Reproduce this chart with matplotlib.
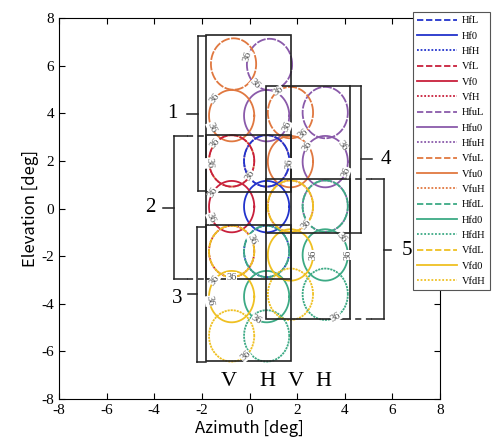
import numpy as np
import matplotlib.pyplot as plt
from matplotlib.patches import Rectangle

plt.rcParams['font.family'] = ['Liberation Serif', 'DejaVu Serif']
plt.rcParams['axes.unicode_minus'] = False

# beam contour centres (deg) for each feed group, level L / 0 / H
hf_x = [0.72, 0.72, 0.72]
hf_y = [2.0, 0.08, -1.8]
hf_lv = ['L', '0', 'H']
hf_lab = [[-5], [], []]

vf_x = [-0.75, -0.75, -0.75]
vf_y = [2.0, 0.08, -1.8]
vf_lv = ['L', '0', 'H']
vf_lab = [[136, 185, -34], [146, 206], []]

hfu_x = [0.84, 0.72, 0.72, 3.18, 3.18, 3.18]
hfu_y = [6.05, 3.9, 2.0, 4.03, 1.97, 0.1]
hfu_lv = ['L', '0', 'H', 'L', '0', 'H']
hfu_lab = [[162, 230], [-25], [], [], [143, 39, -24], []]

vfu_x = [-0.67, -0.75, -0.75, 1.72, 1.72, 1.72]
vfu_y = [6.07, 3.9, 2.0, 4.03, 1.97, 0.1]
vfu_lv = ['L', '0', 'H', 'L', '0', 'H']
vfu_lab = [[], [139, 207], [], [122, -55], [], []]

hfd_x = [0.72, 0.72, 0.72, 3.18, 3.18, 3.18]
hfd_y = [-1.8, -3.7, -5.35, 0.1, -1.95, -3.6]
hfd_lv = ['L', '0', 'H', 'L', '0', 'H']
hfd_lab = [[], [243], [], [], [42, 0], [-62]]

vfd_x = [-0.75, -0.75, -0.75, 1.72, 1.72, 1.72]
vfd_y = [-1.8, -3.7, -5.35, 0.1, -1.95, -3.6]
vfd_lv = ['L', '0', 'H', 'L', '0', 'H']
vfd_lab = [[28, -90], [140, 190], [-52], [-46], [0], []]

rx, ry = 0.95, 1.08   # contour half widths (deg)
level = '36'

groups = [
    ('Hf', hf_x, hf_y, hf_lv, hf_lab, '#2233cc', 3),
    ('Vf', vf_x, vf_y, vf_lv, vf_lab, '#c8203c', 3),
    ('Hfu', hfu_x, hfu_y, hfu_lv, hfu_lab, '#8a5aaa', 2),
    ('Vfu', vfu_x, vfu_y, vfu_lv, vfu_lab, '#e07840', 2),
    ('Hfd', hfd_x, hfd_y, hfd_lv, hfd_lab, '#3daa85', 4),
    ('Vfd', vfd_x, vfd_y, vfd_lv, vfd_lab, '#efc022', 4),
]
styles = {'L': (0, (5, 0.8)), '0': '-', 'H': (0, (1.2, 0.5))}
leg_styles = {'L': (0, (3.5, 1.5)), '0': '-', 'H': (0, (1, 1))}

# boxes: x0, x1, y0, y1
box_x0 = [-1.84, -1.84, -1.84, 0.71, 0.71]
box_x1 = [1.76, 1.76, 1.76, 4.23, 4.23]
box_y0 = [0.71, -2.94, -6.39, -1.01, -4.62]
box_y1 = [7.27, 3.07, -0.71, 5.13, 1.22]

# brackets: spine x, top, bottom, hook end, solid part of hook, tick end, tick y, label, label x
br_x = [-2.18, -3.18, -2.22, 4.69, 5.65]
br_top = [7.23, 3.03, -0.76, 5.13, 1.22]
br_bot = [0.73, -2.94, -6.43, -1.01, -4.62]
br_hook = [-1.84, -1.84, -1.84, 4.23, 4.23]
br_solid = [-1.84, -2.64, -1.84, 4.23, 5.15]
br_tick = [-2.64, -3.64, -2.6, 5.15, 5.94]
br_ty = [3.99, 0.04, -3.57, 2.06, -1.76]
br_txt = ['1', '2', '3', '4', '5']
br_tx = [-3.22, -4.18, -3.05, 5.73, 6.61]
br_ly = [3.99, 0.04, -3.8, 2.06, -1.76]

col_txt = ['V', 'H', 'V', 'H']
col_tx = [-0.85, 0.75, 1.95, 3.1]

fig = plt.figure(figsize=(5, 4.45), dpi=100)
ax = fig.add_axes([0.118, 0.1034, 0.762, 0.856])

t = np.linspace(0, 2 * np.pi, 240)
for name, xs, ys, lvs, labs, col, z in groups:
    for lv in ['L', '0', 'H']:
        for cx, cy, l, la in zip(xs, ys, lvs, labs):
            if l != lv:
                continue
            ax.plot(cx + rx * np.cos(t), cy + ry * np.sin(t), color=col,
                    ls=styles[lv], lw=1.3, zorder=z)
            for a in la:
                th = np.radians(a)
                ang = np.degrees(np.arctan2(ry * np.cos(th), -rx * np.sin(th)))
                if ang > 90:
                    ang -= 180
                if ang <= -90:
                    ang += 180
                ax.text(cx + rx * np.cos(th), cy + ry * np.sin(th), level,
                        fontsize=7.5, color='#555555', rotation=ang,
                        ha='center', va='center', zorder=6,
                        bbox=dict(fc='white', ec='none', pad=0.05))
        # legend entry for this series
        ax.plot([], [], color=col, ls=leg_styles[lv], lw=1.3, label=name + lv)

for x0, x1, y0, y1 in zip(box_x0, box_x1, box_y0, box_y1):
    ax.add_patch(Rectangle((x0, y0), x1 - x0, y1 - y0, fill=False,
                           ec='#222222', lw=1.2, zorder=5))

for bx, top, bot, hk, sd, tk, ty, txt, tx, ly in zip(
        br_x, br_top, br_bot, br_hook, br_solid, br_tick, br_ty, br_txt, br_tx, br_ly):
    kw = dict(color='#222222', lw=1.1, zorder=5, clip_on=False)
    ax.plot([bx, bx], [bot, top], **kw)
    for yy in (top, bot):
        ax.plot([bx, sd], [yy, yy], **kw)
        if sd != hk:
            ax.plot([sd, hk], [yy, yy], ls=(0, (4, 3)), **kw)
    ax.plot([bx, tk], [ty, ty], **kw)
    ax.text(tx, ly, txt, fontsize=15, ha='center', va='center')

for txt, tx in zip(col_txt, col_tx):
    ax.text(tx, -7.25, txt, fontsize=16, ha='center', va='center')

ax.set_xlim(-8, 8)
ax.set_ylim(-8, 8)
ax.set_xticks(range(-8, 9, 2))
ax.set_yticks(range(-8, 9, 2))
ax.tick_params(direction='in', top=True, right=True, labelsize=11, length=4)
ax.set_xlabel('Azimuth [deg]', family=['Noto Sans CJK JP', 'DejaVu Sans'], fontsize=12, labelpad=2)
ax.set_ylabel('Elevation [deg]', family=['Noto Sans CJK JP', 'DejaVu Sans'], fontsize=12, labelpad=2)

leg = ax.legend(loc='upper left', bbox_to_anchor=(413 / 500, 1 - 12 / 445),
                bbox_transform=fig.transFigure, fontsize=7.5, handlelength=3.8,
                handletextpad=0.5, labelspacing=0.58, borderaxespad=0,
                fancybox=False, framealpha=1, edgecolor='#555555')
leg.get_frame().set_linewidth(0.8)
leg.set_zorder(10)

fig.savefig('out.png', dpi=100)
